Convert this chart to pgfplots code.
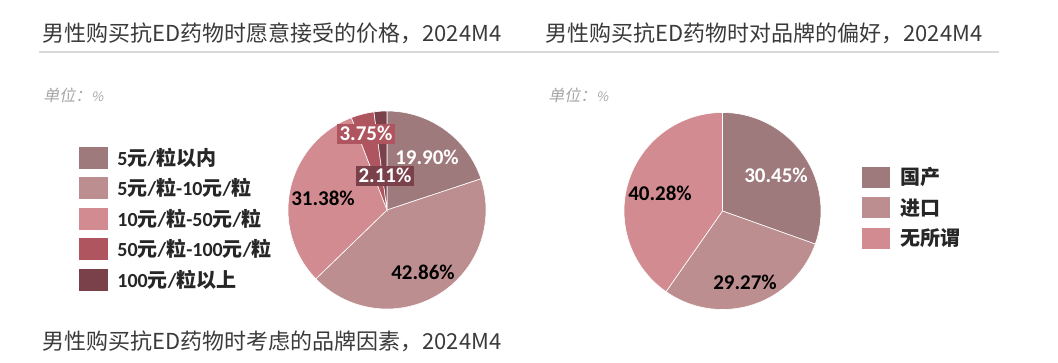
\documentclass[border=0pt]{standalone}
\usepackage{pgfplots}
\pgfplotsset{compat=1.18}
\usepackage{fontspec}
\setmainfont{Carlito}
\newfontfamily\cjk{Noto Sans CJK SC}
\newfontfamily\cjkit[FakeSlant=0.2]{Noto Sans CJK SC}
\definecolor{cA}{HTML}{9F7A7C}
\definecolor{cB}{HTML}{BC8E90}
\definecolor{cC}{HTML}{D28C91}
\definecolor{cD}{HTML}{AF5560}
\definecolor{cE}{HTML}{7A414B}
\definecolor{ttl}{HTML}{3A3A3A}
\definecolor{unit}{HTML}{A6A6A6}
\definecolor{rule}{HTML}{D9D9D9}
\newcommand{\zh}[1]{{\cjk\bfseries #1}}
% slice: cx, cy, r, start (percent), value (percent), colour
\newcommand{\slice}[6]{%
  \fill[#6, draw=white, line width=0.3pt] (axis cs:#1,#2) --
    (axis cs:{#1+#3*sin(3.6*#4)},{#2-#3*cos(3.6*#4)})
    arc[start angle={90-3.6*#4}, end angle={90-3.6*(#4+#5)}, radius={#3*0.5pt}] -- cycle;}
\begin{document}
\begin{tikzpicture}
\begin{axis}[hide axis, scale only axis, x=0.5pt, y=0.5pt,
  xmin=0, xmax=1058, ymin=0, ymax=363, y dir=reverse,
  enlargelimits=false, clip=false, anchor=south west, at={(0,0)}]
% titles
\begin{scope}[font=\cjk\fontsize{11}{13}\selectfont, text=ttl, inner sep=0]
\node[anchor=west] at (axis cs:42,33) {男性购买抗ED药物时愿意接受的价格，2024M4};
\node[anchor=west] at (axis cs:545,33) {男性购买抗ED药物时对品牌的偏好，2024M4};
\node[anchor=west] at (axis cs:42,341) {男性购买抗ED药物时考虑的品牌因素，2024M4};
\end{scope}
\draw[rule, line width=0.6pt] (axis cs:39,52) -- (axis cs:999,52);
\node[anchor=west, text=unit, font=\cjkit\fontsize{8}{9}\selectfont, inner sep=0] at (axis cs:43,95) {单位：{\fontsize{6.5}{8}\selectfont\%}};
\node[anchor=west, text=unit, font=\cjkit\fontsize{8}{9}\selectfont, inner sep=0] at (axis cs:548,95) {单位：{\fontsize{6.5}{8}\selectfont\%}};
% pie 1 (clockwise from top)
\slice{387}{210}{99}{0}{19.90}{cA}
\slice{387}{210}{99}{19.90}{42.86}{cB}
\slice{387}{210}{99}{62.76}{31.38}{cC}
\slice{387}{210}{99}{94.14}{3.75}{cD}
\slice{387}{210}{99}{97.89}{2.11}{cE}
% pie 2
\slice{722.5}{211}{98.5}{0}{30.45}{cA}
\slice{722.5}{211}{98.5}{30.45}{29.27}{cB}
\slice{722.5}{211}{98.5}{59.72}{40.28}{cC}
% labels pie 1
\begin{scope}[font=\bfseries\fontsize{10.5}{12}\selectfont]
\node[text=white] at (axis cs:427,157) {19.90\%};
\node[text=black] at (axis cs:423,272) {42.86\%};
\node[text=black] at (axis cs:323,198) {31.38\%};
\node[text=white, fill=cD, inner xsep=1.3pt, inner ysep=1.3pt, text height=7pt, text depth=0.5pt] at (axis cs:366,134) {3.75\%};
\node[text=white, fill=cE, inner xsep=1.3pt, inner ysep=1.3pt, text height=7pt, text depth=0.5pt] at (axis cs:385,176) {2.11\%};
% labels pie 2
\node[text=white] at (axis cs:776,175) {30.45\%};
\node[text=black] at (axis cs:745,282) {29.27\%};
\node[text=black] at (axis cs:660,193) {40.28\%};
\end{scope}
% legend 1
\fill[cA] (axis cs:79,147) rectangle (axis cs:108,169);
\fill[cB] (axis cs:79,177) rectangle (axis cs:108,199);
\fill[cC] (axis cs:79,208) rectangle (axis cs:108,230);
\fill[cD] (axis cs:79,238) rectangle (axis cs:108,260);
\fill[cE] (axis cs:79,269) rectangle (axis cs:108,291);
\begin{scope}[font=\bfseries\fontsize{10}{12}\selectfont, text=black!85, inner sep=0]
\node[anchor=west] at (axis cs:117,158) {5\zh{元}/\zh{粒以内}};
\node[anchor=west] at (axis cs:117,188) {5\zh{元}/\zh{粒}-10\zh{元}/\zh{粒}};
\node[anchor=west] at (axis cs:117,219) {10\zh{元}/\zh{粒}-50\zh{元}/\zh{粒}};
\node[anchor=west] at (axis cs:117,249) {50\zh{元}/\zh{粒}-100\zh{元}/\zh{粒}};
\node[anchor=west] at (axis cs:117,280) {100\zh{元}/\zh{粒以上}};
\end{scope}
% legend 2
\fill[cA] (axis cs:862,167) rectangle (axis cs:890,188);
\fill[cB] (axis cs:862,197) rectangle (axis cs:890,218);
\fill[cC] (axis cs:862,228) rectangle (axis cs:890,249);
\begin{scope}[font=\cjk\bfseries\fontsize{10}{12}\selectfont, text=black!85, inner sep=0]
\node[anchor=west] at (axis cs:900,177) {国产};
\node[anchor=west] at (axis cs:900,208) {进口};
\node[anchor=west] at (axis cs:900,238) {无所谓};
\end{scope}
\end{axis}
\pgfresetboundingbox
\path (0,0) rectangle (529pt,181.5pt);
\end{tikzpicture}
\end{document}
